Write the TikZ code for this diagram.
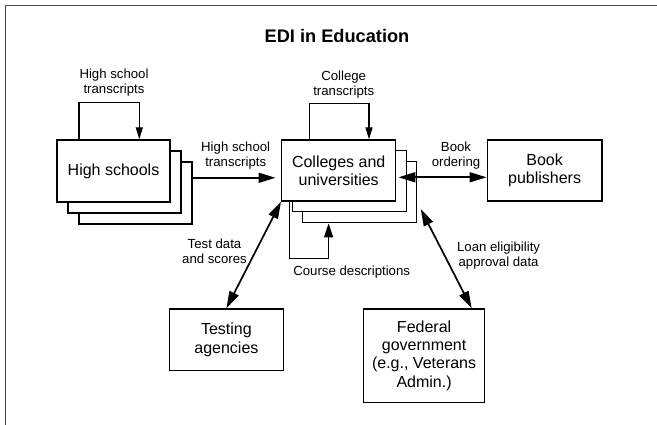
\documentclass[tikz,border=0pt]{standalone}
\usepackage{fontspec}
\setmainfont{Liberation Sans}
\usetikzlibrary{arrows.meta,calc}
\tikzset{
  ebox/.style={draw=black, line width=1.4pt, fill=white, rectangle, inner sep=0pt, align=center,
    font=\fontsize{16}{18.3}\selectfont},
  elabel/.style={align=center, anchor=base, inner sep=0pt, font=\fontsize{13.2}{15}\selectfont},
  marrow/.style={line width=1.7pt, -{Triangle[length=17pt,width=10pt]}},
  darrow/.style={line width=1.7pt, {Triangle[length=17pt,width=10pt]}-{Triangle[length=17pt,width=10pt]}},
  larrow/.style={line width=1.4pt, -{Triangle[length=12pt,width=7pt]}},
  carrow/.style={line width=1.5pt, -{Triangle[length=14pt,width=9pt]}},
  frameline/.style={draw=black!70, line width=0.9pt}
}
\begin{document}
\begin{tikzpicture}[x=1pt,y=-1pt]
\useasboundingbox (0,0) rectangle (657,425);
\coordinate (ftl) at (5.3,5.3);
\coordinate (ftr) at (657,5.3);
\coordinate (fbl) at (5.3,425);
\draw[frameline] (fbl) -- (ftl) -- (ftr);

\node[anchor=base, inner sep=0pt, font=\fontsize{18.2}{20}\selectfont\bfseries] (title) at (337,42.3) {EDI in Education};

% High schools stack
\node[ebox, minimum width=113pt, minimum height=62pt] (hs3) at (135.5,193) {};
\node[ebox, minimum width=113pt, minimum height=62pt] (hs2) at (124.5,182) {};
\node[ebox, minimum width=113pt, minimum height=62pt] (hs1) at (113.5,171) {High schools};

% Colleges stack
\node[ebox, minimum width=114pt, minimum height=61pt] (cu3) at (359.7,192.2) {};
\node[ebox, minimum width=114pt, minimum height=61pt] (cu2) at (349.2,181.3) {};
\node[ebox, minimum width=114pt, minimum height=61pt] (cu1) at (338.7,170.5) {Colleges and\\universities};

\node[ebox, minimum width=114.7pt, minimum height=61pt] (bp) at (544.6,170.5) {Book\\publishers};
\node[ebox, minimum width=113.8pt, minimum height=61.7pt] (ts) at (226.4,339.8) {Testing\\agencies};
\node[ebox, minimum width=121.1pt, minimum height=93.3pt] (fg) at (424.1,355.6) {Federal\\government\\(e.g., Veterans\\Admin.)};

% self loops
\draw[larrow] ([xshift=22.6pt]hs1.north west) -- ++(0,-36.7) -| ([xshift=83pt]hs1.north west);
\draw[larrow] ([xshift=28.3pt]cu1.north west) -- ++(0,-35.7) -| ([xshift=88pt]cu1.north west);
\draw[carrow] ([xshift=8.3pt]cu1.south west) -- ++(0,56.7) -| ([xshift=26.6pt]cu3.south west);

% main arrows
\draw[marrow, shorten >=5.5pt] ([yshift=15.2pt]hs3.east) -- ([yshift=15.2pt]hs3.east -| cu1.west);
\draw[darrow, shorten <=2pt] ([yshift=-6.8pt]cu1.east) -- ([yshift=-6.8pt]cu1.east -| bp.west);
\draw[darrow] (ts.north) -- (cu1.south west);
\coordinate (loanA) at ([xshift=3.3pt,yshift=14.4pt]cu3.south east);
\draw[darrow] (loanA) -- ([xshift=-13.7pt]fg.north east);

% labels (anchor base = baseline of last line)
\node[elabel] (lhs) at (114,94) {High school\\transcripts};
\node[elabel] (lhc) at (235.7,166.3) {High school\\transcripts};
\node[elabel] (lct) at (343.7,96) {College\\transcripts};
\node[elabel] (lcd) at (351.7,275.5) {Course descriptions};
\node[elabel] (lbo) at (456,166.7) {Book\\ordering};
\node[elabel] (ltd) at (214.5,264) {Test data\\and scores};
\node[elabel] (lle) at (498.6,266.7) {Loan eligibility\\approval data};
\end{tikzpicture}
\end{document}
